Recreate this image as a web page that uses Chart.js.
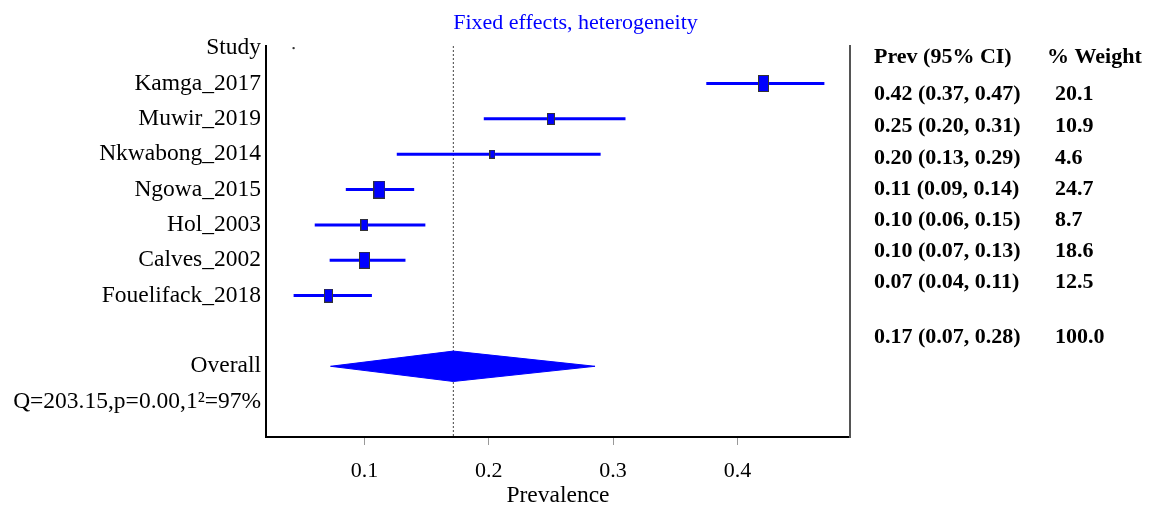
<!DOCTYPE html>
<html>
<head>
<meta charset="utf-8">
<script src="https://cdn.jsdelivr.net/npm/chart.js@4"></script>
<style>
  body { margin: 0; background: #fff; }
  #wrap { width: 1151px; height: 510px; position: relative; }
</style>
</head>
<body>
<div id="wrap"><canvas id="forest"></canvas></div>
<script>
// rows of the plot, top to bottom (index = row on the y axis)
const rowLabels = ['Study', 'Kamga_2017', 'Muwir_2019', 'Nkwabong_2014', 'Ngowa_2015', 'Hol_2003',
  'Calves_2002', 'Fouelifack_2018', '', 'Overall', 'Q=203.15,p=0.00,1\u00b2=97%'];

const studies = ['Kamga_2017', 'Muwir_2019', 'Nkwabong_2014', 'Ngowa_2015', 'Hol_2003', 'Calves_2002', 'Fouelifack_2018'];
// plotted estimates
const prev = [0.421, 0.250, 0.203, 0.112, 0.100, 0.100, 0.071];
const lower = [0.375, 0.196, 0.126, 0.085, 0.060, 0.072, 0.043];
const upper = [0.470, 0.310, 0.290, 0.140, 0.149, 0.133, 0.106];
const weight = [20.1, 10.9, 4.6, 24.7, 8.7, 18.6, 12.5];

// printed table column
const ciText = ['0.42 (0.37, 0.47)', '0.25 (0.20, 0.31)', '0.20 (0.13, 0.29)', '0.11 (0.09, 0.14)',
  '0.10 (0.06, 0.15)', '0.10 (0.07, 0.13)', '0.07 (0.04, 0.11)'];
const weightText = ['20.1', '10.9', '4.6', '24.7', '8.7', '18.6', '12.5'];

const overall = { prev: 0.1715, lower: 0.0727, upper: 0.2855 };
const overallText = ['0.17 (0.07, 0.28)', '100.0'];
const xTicks = [0.1, 0.2, 0.3, 0.4];

const serif = '"Liberation Serif", "Times New Roman", serif';
const blue = '#0000ff';

// square markers sized by study weight
function makeBox(w) {
  const bw = Math.round(1.5 + 2.1 * Math.sqrt(w));
  const bh = Math.round(bw * 1.5);
  const c = document.createElement('canvas');
  c.width = bw; c.height = bh;
  const g = c.getContext('2d');
  g.fillStyle = '#333';
  g.fillRect(0, 0, bw, bh);
  g.fillStyle = blue;
  g.fillRect(1, 1, bw - 2, bh - 2);
  return c;
}

const datasets = [];

// confidence interval lines
studies.forEach((s, i) => {
  datasets.push({
    label: s,
    data: [{ x: lower[i], y: i + 1 }, { x: upper[i], y: i + 1 }],
    showLine: true,
    borderColor: blue,
    borderWidth: 3,
    pointRadius: 0,
    order: 1
  });
});

// point estimates
datasets.push({
  label: 'Prevalence',
  data: studies.map((s, i) => ({ x: prev[i], y: i + 1 })),
  pointStyle: weight.map(makeBox),
  order: 0
});

// overall diamond
const oRow = rowLabels.indexOf('Overall');
const dh = 0.43;
datasets.push({
  label: 'Overall',
  data: [
    { x: overall.lower, y: oRow },
    { x: overall.prev, y: oRow - dh },
    { x: overall.upper, y: oRow },
    { x: overall.prev, y: oRow + dh },
    { x: overall.lower, y: oRow }
  ],
  showLine: true,
  fill: 'shape',
  backgroundColor: blue,
  borderColor: blue,
  borderWidth: 1,
  pointRadius: 0,
  tension: 0,
  order: 2
});

// dotted line at overall estimate
datasets.push({
  label: 'ref',
  data: [{ x: overall.prev, y: -0.06 }, { x: overall.prev, y: 11 }],
  showLine: true,
  borderColor: '#444',
  borderWidth: 1,
  borderDash: [2, 2],
  pointRadius: 0,
  order: 3
});

// stray dot on the header row
datasets.push({
  label: 'dot',
  data: [{ x: 0.043, y: 0 }],
  pointRadius: 1.2,
  backgroundColor: '#333',
  borderWidth: 0,
  order: 4
});

const tablePlugin = {
  id: 'table',
  afterDraw(chart) {
    const ctx = chart.ctx;
    ctx.save();
    ctx.fillStyle = '#000';
    ctx.font = 'bold 22px ' + serif;
    ctx.textBaseline = 'middle';
    ctx.textAlign = 'left';
    ctx.fillText('Prev (95% CI)', 874, 57);
    ctx.fillText('% Weight', 1047, 57);
    const rowsY = [94, 126, 158, 189, 220, 251, 282];
    ciText.forEach((t, i) => {
      ctx.fillText(t, 874, rowsY[i]);
      ctx.fillText(weightText[i], 1055, rowsY[i]);
    });
    ctx.fillText(overallText[0], 874, 337);
    ctx.fillText(overallText[1], 1055, 337);
    ctx.restore();
  }
};

new Chart(document.getElementById('forest'), {
  type: 'scatter',
  data: { datasets: datasets },
  plugins: [tablePlugin],
  options: {
    responsive: true,
    maintainAspectRatio: false,
    animation: false,
    layout: { padding: 0 },
    plugins: {
      legend: { display: false },
      tooltip: { enabled: false },
      title: {
        display: true,
        text: 'Fixed effects, heterogeneity',
        color: blue,
        fullSize: true,
        font: { family: serif, size: 22, weight: 'normal' },
        padding: { top: 10, bottom: 9.6 }
      }
    },
    scales: {
      x: {
        type: 'linear',
        position: 'bottom',
        min: 0.0208,
        max: 0.4906,
        afterFit: (s) => { s.height = 73; },
        ticks: {
          stepSize: 0.1,
          includeBounds: false,
          padding: 13,
          color: '#000',
          font: { family: serif, size: 22 },
          callback: (v) => xTicks.some(t => Math.abs(t - v) < 1e-6) ? v.toFixed(1) : ''
        },
        grid: { drawOnChartArea: false, tickLength: 8, color: '#999', tickWidth: 1 },
        border: { color: '#000', width: 2 },
        title: {
          display: true,
          text: 'Prevalence',
          color: '#000',
          font: { family: serif, size: 23.5 },
          padding: { top: 0, bottom: 0 }
        }
      },
      y: {
        type: 'linear',
        position: 'left',
        reverse: true,
        min: -0.06,
        max: 11,
        afterFit: (s) => { s.width = 266; },
        ticks: {
          stepSize: 1,
          includeBounds: false,
          autoSkip: false,
          padding: 5,
          color: '#000',
          font: { family: serif, size: 23.5 },
          callback: (v) => Number.isInteger(v) && rowLabels[v] !== undefined ? rowLabels[v] : ''
        },
        grid: { drawOnChartArea: false, drawTicks: false },
        border: { color: '#000', width: 2 }
      },
      // right frame line; its width reserves the room for the table
      y2: {
        type: 'linear',
        position: 'right',
        min: 0,
        max: 1,
        afterFit: (s) => { s.width = 301; },
        ticks: { display: false },
        grid: { drawOnChartArea: false, drawTicks: false },
        border: { color: '#555', width: 2 }
      }
    }
  }
});
</script>
</body>
</html>
